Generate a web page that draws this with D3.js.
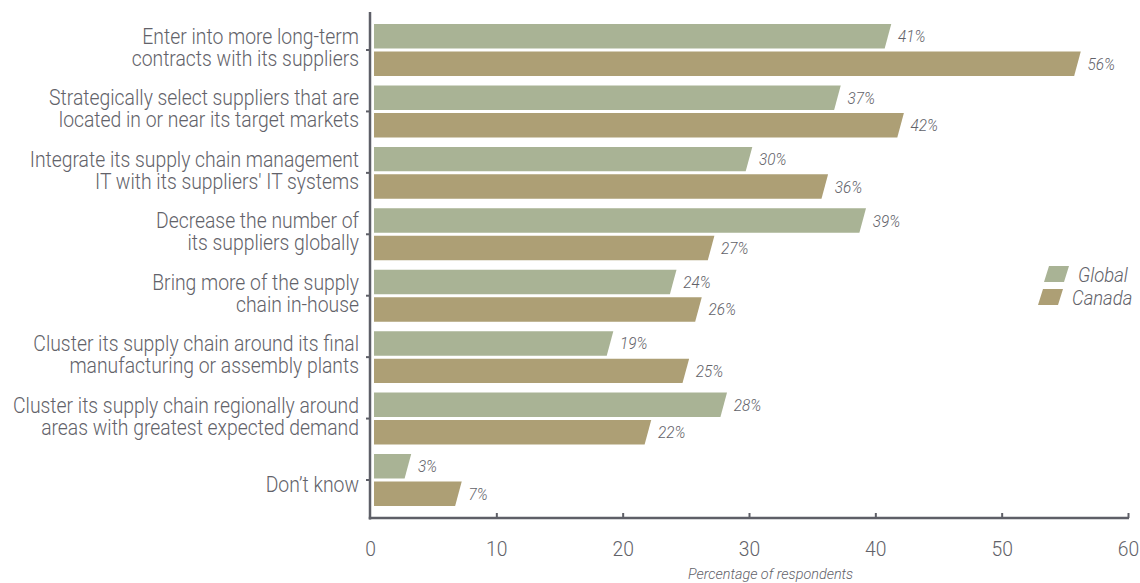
<!DOCTYPE html>
<html>
<head>
<meta charset="utf-8">
<script src="https://cdn.jsdelivr.net/npm/d3@7"></script>
<style>
  html, body { margin: 0; padding: 0; background: #fff; }
  svg { display: block; }
  text { font-family: "Roboto", "Liberation Sans", sans-serif; font-weight: 300; fill: #626269; }
</style>
</head>
<body>
<svg id="chart" width="1140" height="583"></svg>
<script>
// Survey answers (each label split into its drawn lines)
const categories = [
  ["Enter into more long-term", "contracts with its suppliers"],
  ["Strategically select suppliers that are", "located in or near its target markets"],
  ["Integrate its supply chain management", "IT with its suppliers' IT systems"],
  ["Decrease the number of", "its suppliers globally"],
  ["Bring more of the supply", "chain in-house"],
  ["Cluster its supply chain around its final", "manufacturing or assembly plants"],
  ["Cluster its supply chain regionally around", "areas with greatest expected demand"],
  ["Don\u2019t know"]
];
const seriesNames = ["Global", "Canada"];
const globalValues = [41, 37, 30, 39, 24, 19, 28, 3];
const canadaValues = [56, 42, 36, 27, 26, 25, 22, 7];
const xTicks = [0, 10, 20, 30, 40, 50, 60];
const xTitle = "Percentage of respondents";

const colors = { Global: "#a9b395", Canada: "#ad9f75" };
const axisColor = "#5e5f67";
const narrow = 0.9;   // horizontal squeeze for the condensed lettering

const svg = d3.select("#chart");
const catKeys = categories.map(c => c.join(" "));

const x = d3.scaleLinear().domain([0, 60]).range([370, 1128]);
const y0 = d3.scaleBand().domain(catKeys).range([19.3, 510.7])
  .paddingInner(0.154).paddingOuter(0.077);
const y1 = d3.scaleBand().domain(seriesNames).range([0, y0.bandwidth()]).paddingInner(0.11);

const rows = categories.map((c, i) => ({
  key: catKeys[i],
  lines: c,
  values: [
    { series: "Global", value: globalValues[i] },
    { series: "Canada", value: canadaValues[i] }
  ]
}));

// Bars: parallelograms with a slanted right end
const slant = 3.3;
const barStart = x(0) + 4;
function barPath(v, top, h) {
  const xr = x(v);
  return `M${barStart},${top}L${xr + slant},${top}L${xr - slant},${top + h}L${barStart},${top + h}Z`;
}

const groups = svg.append("g").selectAll("g").data(rows).join("g")
  .attr("transform", d => `translate(0,${y0(d.key)})`);

groups.selectAll("path").data(d => d.values).join("path")
  .attr("d", d => barPath(d.value, y1(d.series), y1.bandwidth()))
  .attr("fill", d => colors[d.series]);

groups.selectAll("text.val").data(d => d.values).join("text")
  .attr("class", "val")
  .attr("transform", d => `translate(${x(d.value) + 10},${y1(d.series) + y1.bandwidth() / 2 + 6}) scale(0.9,1)`)
  .attr("font-size", 17)
  .attr("font-style", "italic")
  .text(d => d.value + "%");

// Category axis (left)
const yAxis = d3.axisLeft(y0).tickSize(4).tickFormat("");
const gy = svg.append("g").attr("transform", `translate(${x(0)},0)`).call(yAxis);
gy.select(".domain").remove();
gy.selectAll(".tick line").attr("stroke", axisColor).attr("stroke-width", 2);
svg.append("line")
  .attr("x1", x(0)).attr("x2", x(0)).attr("y1", 12).attr("y2", 519.5)
  .attr("stroke", axisColor).attr("stroke-width", 2.5);

// Category labels
const labels = svg.append("g").selectAll("text").data(rows).join("text")
  .attr("text-anchor", "end")
  .attr("font-size", 21.5)
  .attr("transform", d => `translate(359,${y0(d.key) + y0.bandwidth() / 2}) scale(${narrow},1)`);
labels.selectAll("tspan").data(d => d.lines.map((t, i) => ({ t, i, n: d.lines.length })))
  .join("tspan")
  .attr("x", 0)
  .attr("y", d => d.n === 1 ? 12 : (d.i === 0 ? -6 : 16))
  .text(d => d.t);

// Value axis (bottom)
const xAxis = d3.axisBottom(x).tickValues(xTicks).tickSize(0).tickPadding(0).tickFormat(d3.format("d"));
const gx = svg.append("g").attr("transform", "translate(0,518)").call(xAxis);
gx.select(".domain").remove();
gx.selectAll(".tick text")
  .attr("y", 0).attr("dy", null)
  .attr("transform", `translate(0,38) scale(0.92,1)`)
  .attr("font-size", 21).attr("fill", "#626269").style("font-family", null);
gx.selectAll(".tick").filter(d => d > 0).append("line")
  .attr("y1", 0).attr("y2", -5).attr("stroke", axisColor).attr("stroke-width", 2);
svg.append("line")
  .attr("x1", x(0) - 1.25).attr("x2", x(60) + 1).attr("y1", 518).attr("y2", 518)
  .attr("stroke", axisColor).attr("stroke-width", 2.5);

svg.append("text")
  .attr("transform", `translate(688,579) scale(0.93,1)`)
  .attr("font-size", 15.5).attr("font-style", "italic")
  .text(xTitle);

// Legend
const legend = svg.append("g").selectAll("g").data(seriesNames).join("g")
  .attr("transform", (d, i) => `translate(0,${266 + i * 23})`);
legend.append("path")
  .attr("d", (d, i) => {
    const x0 = 1044 - i * 6, w = 20, h = 16, s = 5;
    return `M${x0 + s},0L${x0 + s + w},0L${x0 + w},${h}L${x0},${h}Z`;
  })
  .attr("fill", d => colors[d]);
legend.append("text")
  .attr("transform", (d, i) => `translate(${1078 - i * 6},16) scale(0.88,1)`)
  .attr("font-size", 21).attr("font-style", "italic")
  .text(d => d);
</script>
</body>
</html>
